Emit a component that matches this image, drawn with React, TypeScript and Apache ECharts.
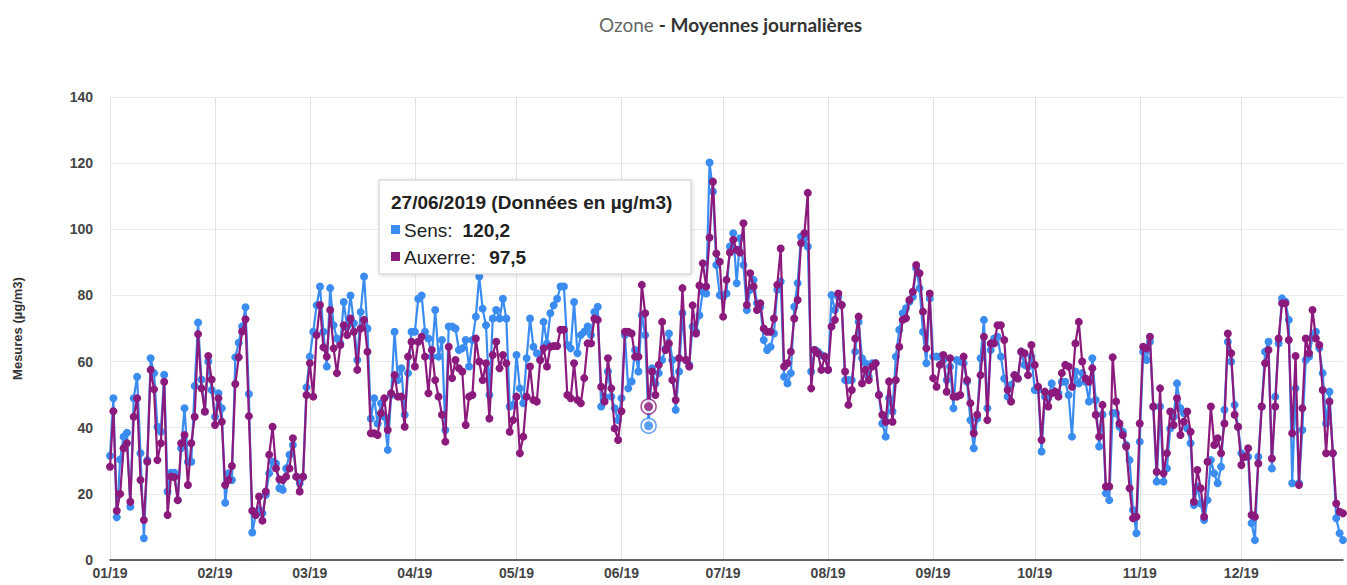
import React, { useEffect, useRef } from "react";
import * as echarts from "echarts";

// ---- Data (µg/m3), daily means 2019 ----
const sensJan = [31.5, 48.9, 12.9, 30.4, 37.3, 38.5, 16.1, 48.9, 55.4, 32.3, 6.6, 30.2, 61, 56.5, 40.3, 38.8, 56, 20.7, 26.4, 26.4, 18.1, 33.8, 45.9, 29.7, 29.7, 52.6, 71.8, 54.6, 44.9, 60, 51.4];
const auxJan = [28.2, 45, 14.9, 20, 33.8, 35.3, 17.6, 43.3, 48.9, 24.2, 12.1, 29.7, 57.5, 51.6, 30.2, 35.3, 53.9, 13.6, 25.2, 25, 18.1, 35.3, 37.8, 22.7, 35.3, 43.3, 68.3, 51.9, 44.9, 61.7, 54.6];
const sensFeb = [43.3, 50.4, 45.9, 17.3, 26.2, 24.2, 61.3, 65.7, 70.6, 76.4, 50.2, 8.3, 13.6, 15.1, 14.1, 19.7, 26.2, 29.7, 29.2, 21.7, 21.2, 27.7, 31.8, 34.8, 25.2, 23.2, 25.2, 52.2];
const auxFeb = [40.8, 48.9, 41.8, 22.7, 24.2, 28.4, 53.2, 61.3, 69.1, 72.8, 43.5, 14.9, 13.6, 19.2, 11.9, 20.7, 31.8, 40.3, 27.7, 24.4, 24.2, 25.2, 27.7, 36.8, 25.2, 20.7, 25.2, 49.9];
const sensMar = [61.5, 69, 77, 82.7, 69, 58.5, 82.2, 71, 67, 65.5, 78, 70.6, 80, 71.6, 60.5, 75, 85.7, 70, 42.8, 48.9, 41.3, 47.4, 43.3, 33.3, 49.9, 69, 54.4, 58, 43.9, 56.5, 69];
const auxMar = [59.5, 49.4, 68, 77.1, 64.3, 61.5, 75.6, 64, 56.5, 65, 71, 68, 73, 69, 57.5, 70, 72.6, 63, 38.3, 38.3, 37.8, 44.4, 48.9, 39.3, 50.4, 55.9, 49.4, 49.4, 40.3, 61.5, 66];
const sensApr = [69, 79, 80, 69, 67, 61.5, 75.6, 61.5, 66.5, 39.3, 70.6, 70.6, 70, 63.5, 64, 66.5, 58.5, 66.5, 73.6, 85.7, 76, 71, 49.9, 73, 75.6, 73, 79, 73, 46.4, 46.9];
const auxApr = [58.5, 66, 67.5, 61.5, 50.4, 63.5, 54.4, 49.4, 43.9, 35.8, 64.5, 55, 60.5, 58, 57, 40.8, 49.4, 49.9, 67, 60, 54.4, 59.5, 42.8, 62, 66, 58, 62, 59.5, 38.8, 42.3];
const sensMay = [62, 51.9, 47.4, 61, 73, 64.5, 62.5, 60.5, 72, 65.5, 74.6, 77, 79, 82.7, 82.7, 65, 64, 78, 62.5, 68, 69, 70.6, 68, 75, 76.6, 46.4, 49.4, 57, 49.4, 45.9, 42.3];
const auxMay = [49.4, 32.3, 37.3, 49.4, 58.5, 48.4, 47.9, 60.5, 64, 58.5, 64.5, 64.7, 64.7, 69.6, 69.6, 49.9, 48.9, 59.5, 48.4, 47.4, 55, 65.5, 65.5, 73, 72.6, 52.4, 47.9, 61, 51.9, 39.8, 36.3];
const sensJun = [48.9, 68, 51.9, 54, 63.5, 57, 74, 68, 40.6, 58, 53.4, 56.5, 60.5, 64, 68.5, 60.5, 45.4, 57, 74.6, 60.5, 59, 70.6, 69, 74, 81, 80.6, 120.2, 111.4, 89.2, 80.1];
const auxJun = [45, 69, 69, 68.5, 61.5, 61.5, 83.2, 74.6, 46.4, 57, 49.9, 59, 72, 63.5, 65.5, 54.4, 48.4, 61, 82.2, 60.5, 58.5, 77, 68.5, 83, 89.7, 82.7, 97.5, 114.4, 92.7, 90.2];
const sensJul = [79.6, 80.6, 94.8, 98.8, 83.7, 97.3, 89.2, 75.6, 81.7, 84.7, 77.6, 76.6, 66.5, 63.5, 64.5, 68.5, 81.7, 84.2, 55.4, 53.4, 56.5, 76.6, 83.7, 97.8, 97.3, 94.8, 57, 63.5, 63, 62, 61.5];
const auxJul = [73.6, 84.7, 93, 96.8, 93.8, 93, 101.8, 77.1, 86.7, 82.7, 75.6, 77.6, 70, 69, 69, 73, 83.2, 94.2, 58.5, 59.5, 63, 73, 78.6, 95.8, 98.8, 111, 51.9, 63.5, 62.5, 57.5, 61.5];
const sensAug = [57.5, 80.1, 75.6, 79.6, 77.1, 54.4, 54.4, 54.4, 63, 72, 61, 59.5, 55.4, 59.5, 59.5, 49.9, 41.3, 37.3, 48.9, 44.9, 61.5, 69.6, 74.6, 76.1, 78.1, 79.6, 88.2, 82.2, 69, 59.5, 79.1];
const auxAug = [57.5, 70.6, 72.6, 80.6, 77.1, 57, 46.9, 51.4, 67, 73.6, 53.4, 57.5, 54.4, 58.5, 59.5, 49.9, 43.9, 41.8, 54, 41.8, 54.4, 64.5, 72.6, 73.1, 78.6, 81.1, 89.2, 86.7, 75.1, 64, 80.6];
const sensSep = [61.5, 61.5, 61.5, 60.5, 54.4, 58.5, 45.9, 60.5, 60, 59.5, 53.9, 42.3, 33.8, 42.8, 61, 72.6, 45.9, 63.5, 67, 67.5, 61.5, 54.9, 49.4, 52.9, 55.9, 54.9, 63, 59, 58.5, 61.5];
const auxSep = [55, 52.4, 59, 62, 50.9, 61, 49.4, 49.4, 49.9, 61.5, 54.4, 47.4, 38.3, 43.9, 55.9, 67.5, 42.3, 65.5, 65.5, 71, 71, 66.5, 51.4, 47.9, 55.9, 54.9, 63, 62.5, 55.9, 65];
const sensOct = [51.4, 51.4, 32.8, 49.4, 48.9, 53.4, 50.9, 50.4, 53.9, 53.9, 49.9, 37.3, 57, 53.4, 56.5, 53.9, 47.9, 61, 48.4, 34.3, 44, 20.2, 18.1, 44.4, 44.4, 40.3, 38.8, 34.8, 30.2, 15.1, 8.1];
const auxOct = [59, 52.4, 36.3, 50.9, 46.4, 50.4, 50.9, 49.4, 56.5, 59, 58.5, 52.4, 65.5, 72, 60, 54.9, 53.9, 58, 43.9, 37.3, 46.9, 22.2, 22.2, 61.3, 47.9, 41.3, 37.8, 34.3, 21.7, 12.6, 13.1];
const sensNov = [35.8, 63, 60.5, 66, 46.4, 23.7, 46.4, 23.7, 27.7, 39.8, 43.3, 53.4, 45.9, 44.4, 39.8, 35.3, 16.6, 22.2, 17.1, 12.1, 18.1, 30.2, 26.2, 23.2, 28.2, 45.4, 66, 60, 46.9, 40.3];
const auxNov = [41.3, 64.5, 64, 67.5, 46.4, 26.7, 51.9, 26.2, 32.3, 44.9, 40.8, 48.9, 37.8, 41.8, 44.9, 38.8, 17.6, 27.2, 21.7, 13.1, 29.7, 46.4, 34.8, 36.8, 32.3, 41.3, 68.5, 62.5, 43.9, 40.3];
const sensDec = [32.3, 31.2, 31.2, 11.1, 6, 31.2, 46.4, 63, 66, 27.7, 49.4, 65.5, 79.1, 78.1, 72.6, 23.2, 51.9, 23.2, 39.3, 60.5, 61.5, 67.5, 69, 64, 56.5, 41.3, 50.9, 32.3, 12.6, 8.1, 6];
const auxDec = [28.7, 31.2, 33.8, 13.6, 13.1, 29.2, 46.4, 59.5, 63.5, 30.7, 46.4, 67, 77.6, 77.6, 66.5, 38.3, 61.7, 22.7, 45.9, 67, 62.5, 75.6, 67, 65, 51.4, 32.3, 47.9, 32.3, 17.1, 14.6, 14.1];

const sens = [...sensJan, ...sensFeb, ...sensMar, ...sensApr, ...sensMay, ...sensJun, ...sensJul, ...sensAug, ...sensSep, ...sensOct, ...sensNov, ...sensDec];
const auxerre = [...auxJan, ...auxFeb, ...auxMar, ...auxApr, ...auxMay, ...auxJun, ...auxJul, ...auxAug, ...auxSep, ...auxOct, ...auxNov, ...auxDec];

const YEAR = 2019;
const yTicks = [0, 20, 40, 60, 80, 100, 120, 140];
const TOOLTIP_INDEX = 177; // 27/06/2019
const HOVER_INDEX = 159; // highlighted points

const pad = (n: number) => (n < 10 ? "0" + n : "" + n);
const dates: string[] = sens.map((_, i) => {
  const d = new Date(Date.UTC(YEAR, 0, 1 + i));
  return `${pad(d.getUTCDate())}/${pad(d.getUTCMonth() + 1)}/${d.getUTCFullYear()}`;
});
const isMonthStart = (i: number) => dates[i].startsWith("01/");

const BLUE = "#3b8cf0";
const PURPLE = "#8c1a7d";
const fmt = (v: number) => v.toFixed(1).replace(".", ",");
const FONT = "Liberation Sans, Arial";
const TIP_Z = 100;

export default function App() {
  const ref = useRef<HTMLDivElement>(null);
  useEffect(() => {
    if (!ref.current) return;
    const chart = echarts.init(ref.current, undefined, { renderer: "svg" });
    const hoverDate = dates[HOVER_INDEX];
    chart.setOption({
      animation: false,
      backgroundColor: "#ffffff",
      title: {
        left: 594,
        top: 10,
        text: "{a|Ozone} {b|- Moyennes journalières}",
        textStyle: {
          rich: {
            a: { fontFamily: "Lato", fontSize: 19, color: "#666666", fontWeight: "normal" },
            b: { fontFamily: "Lato", fontSize: 19, color: "#333333", fontWeight: "bold" },
          },
        },
      },
      grid: { left: 110, right: 4, top: 97, bottom: 25, containLabel: false },
      xAxis: {
        type: "category",
        boundaryGap: false,
        data: dates,
        axisLine: { show: true, lineStyle: { color: "#333333", width: 1.5 } },
        axisTick: { show: false },
        axisLabel: {
          interval: (i: number) => isMonthStart(i),
          formatter: (v: string) => v.slice(3, 5) + "/" + v.slice(8, 10),
          fontFamily: FONT,
          fontWeight: "bold",
          fontSize: 14,
          color: "#444444",
          margin: 6,
          hideOverlap: false,
        },
        splitLine: {
          show: true,
          interval: (i: number) => isMonthStart(i),
          lineStyle: { color: "#e3e3e3", width: 1 },
        },
      },
      yAxis: {
        type: "value",
        min: yTicks[0],
        max: yTicks[yTicks.length - 1],
        interval: 20,
        name: "Mesures (µg/m3)",
        nameLocation: "middle",
        nameGap: 86,
        nameRotate: 90,
        nameTextStyle: { fontFamily: FONT, fontWeight: "bold", fontSize: 13, color: "#333333" },
        axisLine: { show: false },
        axisTick: { show: false },
        axisLabel: { fontFamily: FONT, fontWeight: "bold", fontSize: 14, color: "#444444", margin: 17 },
        splitLine: { show: true, lineStyle: { color: "#ebebeb", width: 1 } },
      },
      series: [
        {
          name: "Sens",
          type: "line",
          data: sens,
          symbol: "circle",
          symbolSize: 8,
          showAllSymbol: true,
          lineStyle: { color: BLUE, width: 2.2 },
          itemStyle: { color: BLUE },
          z: 2,
        },
        {
          name: "Auxerre",
          type: "line",
          data: auxerre,
          symbol: "circle",
          symbolSize: 8,
          showAllSymbol: true,
          lineStyle: { color: PURPLE, width: 2.2 },
          itemStyle: { color: PURPLE },
          z: 3,
        },
        {
          type: "scatter",
          data: [[hoverDate, sens[HOVER_INDEX]]],
          symbolSize: 15,
          itemStyle: { color: "#ffffff", borderColor: BLUE, borderWidth: 1.5 },
          z: 4,
          silent: true,
        },
        {
          type: "scatter",
          data: [[hoverDate, sens[HOVER_INDEX]]],
          symbolSize: 9,
          itemStyle: { color: BLUE },
          z: 5,
          silent: true,
        },
        {
          type: "scatter",
          data: [[hoverDate, auxerre[HOVER_INDEX]]],
          symbolSize: 15,
          itemStyle: { color: "#ffffff", borderColor: PURPLE, borderWidth: 1.5 },
          z: 4,
          silent: true,
        },
        {
          type: "scatter",
          data: [[hoverDate, auxerre[HOVER_INDEX]]],
          symbolSize: 9,
          itemStyle: { color: PURPLE },
          z: 5,
          silent: true,
        },
      ],
      graphic: [
        {
          type: "rect",
          z: TIP_Z,
          shape: { x: 379, y: 180, width: 312, height: 94 },
          style: { fill: "#ffffff", stroke: "#cccccc", lineWidth: 1, shadowBlur: 4, shadowColor: "rgba(0,0,0,0.15)", shadowOffsetX: 1, shadowOffsetY: 1 },
        },
        {
          type: "text",
          z: TIP_Z + 1,
          x: 391,
          y: 202,
          style: {
            text: `${dates[TOOLTIP_INDEX]} (Données en µg/m3)`,
            fontFamily: FONT,
            fontWeight: "bold",
            fontSize: 19,
            fill: "#222222",
            verticalAlign: "middle",
          },
        },
        { type: "rect", z: TIP_Z + 1, shape: { x: 391, y: 225, width: 9, height: 9 }, style: { fill: BLUE } },
        {
          type: "text",
          z: TIP_Z + 1,
          x: 404,
          y: 230,
          style: {
            text: `{l|Sens:}   {v|${fmt(sens[TOOLTIP_INDEX])}}`,
            verticalAlign: "middle",
            rich: {
              l: { fontFamily: FONT, fontSize: 19, fill: "#222222" },
              v: { fontFamily: FONT, fontSize: 19, fontWeight: "bold", fill: "#222222" },
            },
          },
        },
        { type: "rect", z: TIP_Z + 1, shape: { x: 391, y: 252, width: 9, height: 9 }, style: { fill: PURPLE } },
        {
          type: "text",
          z: TIP_Z + 1,
          x: 404,
          y: 257,
          style: {
            text: `{l|Auxerre:}    {v|${fmt(auxerre[TOOLTIP_INDEX])}}`,
            verticalAlign: "middle",
            rich: {
              l: { fontFamily: FONT, fontSize: 19, fill: "#222222" },
              v: { fontFamily: FONT, fontSize: 19, fontWeight: "bold", fill: "#222222" },
            },
          },
        },
      ],
    });
    return () => chart.dispose();
  }, []);
  return (
    <div
      ref={ref}
      style={{ position: "fixed", left: 0, top: 0, width: 1347, height: 585, background: "#fff" }}
    />
  );
}
